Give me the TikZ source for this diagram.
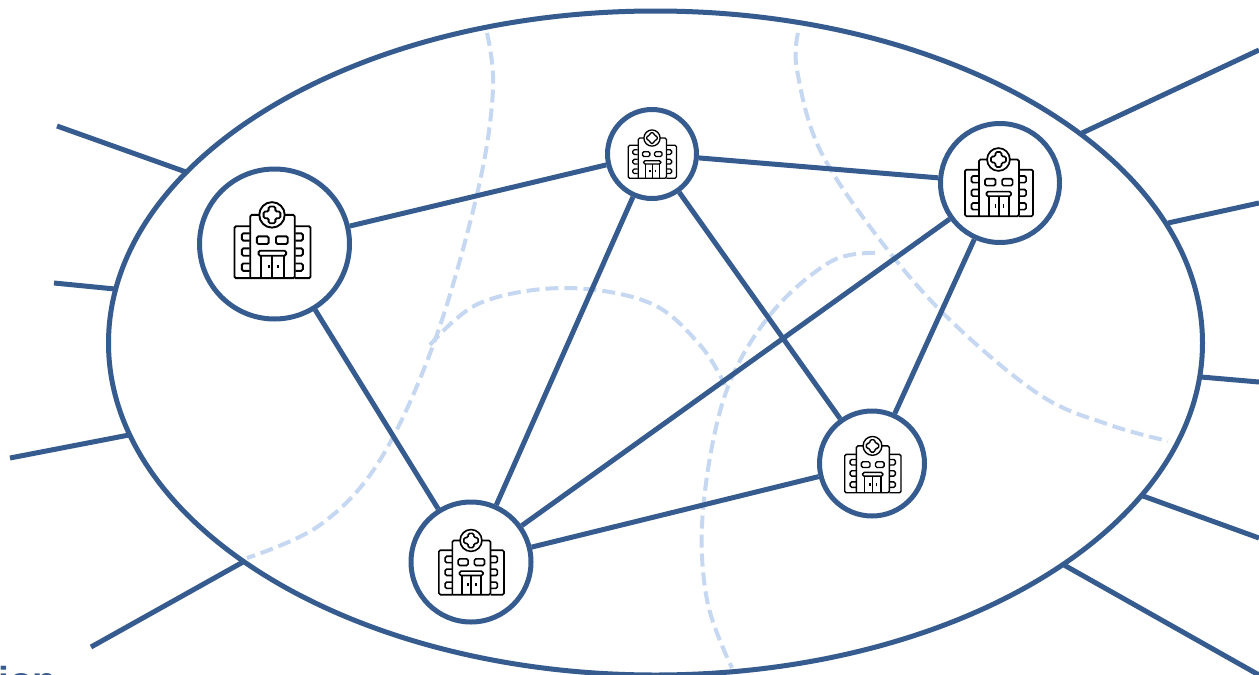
\documentclass[tikz,border=0pt]{standalone}
\usepackage{fontspec}
\usetikzlibrary{shapes.geometric}
\setmainfont{Liberation Sans}
\definecolor{mainblue}{HTML}{365C8F}
\definecolor{lightblue}{HTML}{C6D8F1}
\tikzset{
  x=1pt,y=-1pt,
  hub/.style={circle,draw=mainblue,line width=5pt,fill=white,inner sep=0pt},
  link/.style={draw=mainblue,line width=5pt},
  zone/.style={draw=lightblue,line width=4pt,dash pattern=on 13pt off 6pt,smooth,tension=.6},
  cut/.style={text=mainblue,font=\bfseries,inner sep=0pt,anchor=base west},
  pics/hospital/.style={code={
    \begin{scope}[shift={(-215,-208)},draw=black,rounded corners=1.5pt]
      \draw (150,322) -- (103,322) -- (103,167) -- (150,167);
      \draw (283,322) -- (330,322) -- (330,167) -- (283,167);
      \draw (150,322) -- (150,133) -- (177,133);
      \draw (253,133) -- (283,133) -- (283,322) -- (150,322);
      \draw[sharp corners] (215,133) circle (38);
      \draw (205,108) -- (225,108) -- (225,123) -- (240,123) -- (240,143) -- (225,143) -- (225,158) -- (205,158) -- (205,143) -- (190,143) -- (190,123) -- (205,123) -- cycle;
      \foreach \yy in {188,233,278}{
        \draw (148,\yy) -- (125,\yy) -- (125,\yy+22) -- (148,\yy+22);
        \draw (285,\yy) -- (307,\yy) -- (307,\yy+22) -- (285,\yy+22);
      }
      \draw (170,197) rectangle (205,220);
      \draw (227,197) rectangle (262,220);
      \draw (175,240) rectangle (257,255);
      \draw (183,255) -- (183,322);
      \draw (250,255) -- (250,322);
      \draw (216,255) -- (216,322);
      \draw (205,282) -- (205,293);
      \draw (232,282) -- (232,293);
    \end{scope}
  }},
}
\begin{document}
\begin{tikzpicture}
  \clip (0,0) rectangle (1259,675);
  \fill[white] (0,0) rectangle (1259,675);

  % outer region
  \node[ellipse,draw=mainblue,line width=5pt,inner sep=0pt,minimum width=1094pt,minimum height=664pt] (region) at (655.5,343) {};

  % spokes
  \foreach \n/\ax/\ay/\bx/\by in {
    l1/57/126/186/172, l2/54/283/115/289, l3/10/458/129/435, l4/91/647/243/562,
    r1/1259/50/1082/133, r2/1259/203/1168/223, r3/1259/382/1201/377, r4/1259/538/1143/496, r5/1259/675/1064/565}{
    \coordinate (\n o) at (\ax,\ay);
    \coordinate (\n i) at (\bx,\by);
    \draw[link] (\n o) -- (\n i);
  }

  % dashed zone borders
  \draw[zone] plot coordinates {(487,33) (493,90) (478,190) (435,340) (380,460) (320,525) (247,558)};
  \draw[zone] plot coordinates {(798,33) (797,70) (820,150) (880,240) (950,320) (1040,395) (1110,425) (1168,441)};
  \draw[zone] plot coordinates {(430,345) (480,303) (565,288) (650,303) (700,345) (725,385)};
  \draw[zone] plot coordinates {(875,253) (830,262) (770,315) (725,395) (703,510) (707,600) (732,668)};

  % hubs
  \node[hub,minimum size=150pt] (a) at (274.5,244) {};
  \node[hub,minimum size=89pt] (b) at (652,154) {};
  \node[hub,minimum size=119pt] (c) at (1000,183) {};
  \node[hub,minimum size=105pt] (d) at (872,463.5) {};
  \node[hub,minimum size=120pt] (e) at (471,562) {};

  % links
  \draw[link] (a) -- (b);
  \draw[link] (b) -- (c);
  \draw[link] (a) -- (e);
  \draw[link] (b) -- (e);
  \draw[link] (b) -- (d);
  \draw[link] (c) -- (d);
  \draw[link] (c) -- (e);
  \draw[link] (d) -- (e);

  % icons
  \pic[scale=.335,line width=1.9pt] at (272,240) {hospital};
  \pic[scale=.213,line width=1.3pt] at (652,154) {hospital};
  \pic[scale=.300,line width=1.7pt] at (998.5,182) {hospital};
  \pic[scale=.248,line width=1.4pt] at (872.5,464.5) {hospital};
  \pic[scale=.287,line width=1.6pt] at (471,562) {hospital};

  % text cut off by the frame
  \node[cut,font=\bfseries\fontsize{39}{39}\selectfont] (cuttext) at (-2,694) {ion};
  \node[cut,font=\bfseries\fontsize{39}{39}\selectfont] (cutcolon) at (-11,299) {:};
\end{tikzpicture}
\end{document}
